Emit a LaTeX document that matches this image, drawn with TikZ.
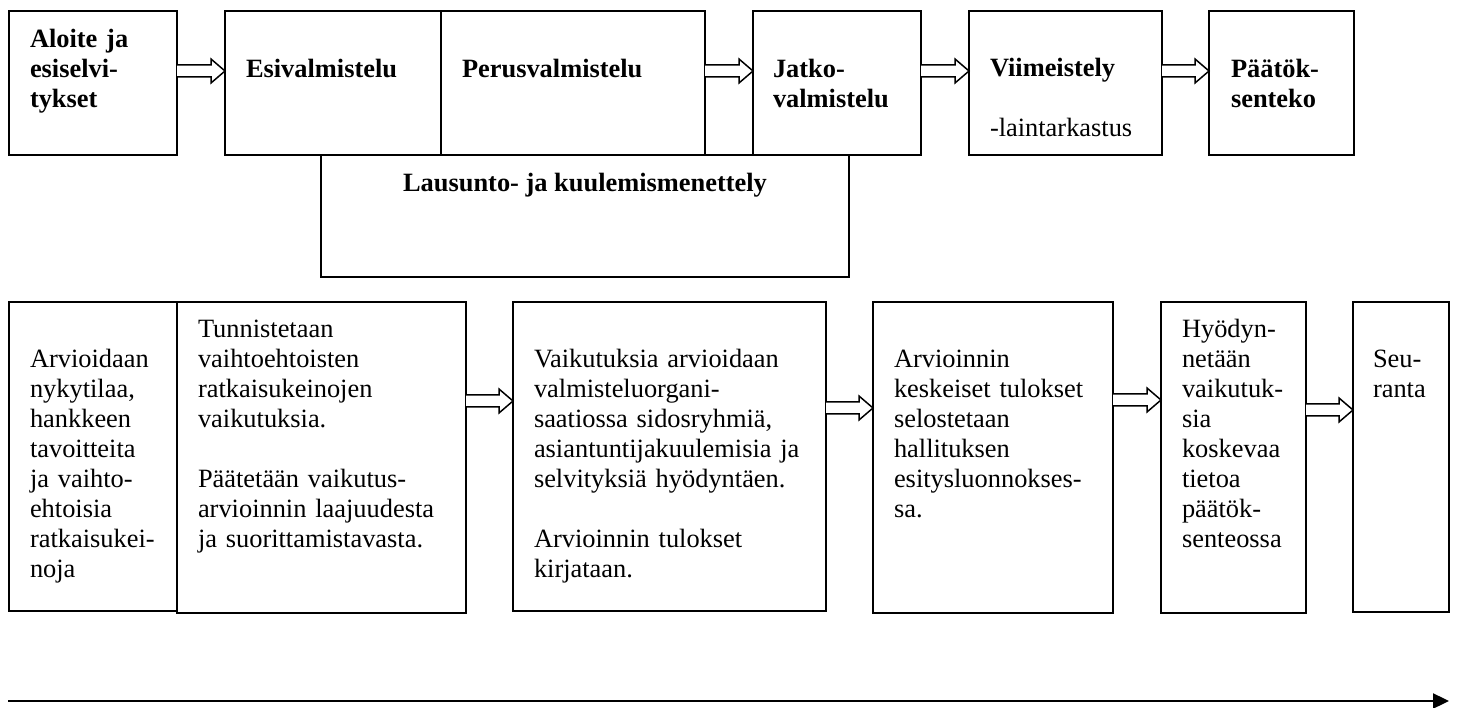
\documentclass[tikz,border=0pt]{standalone}
\usepackage{fontspec}
\setmainfont{Liberation Serif}
\usetikzlibrary{arrows.meta}
\tikzset{
  boxnode/.style={draw, line width=1.8pt, inner sep=0pt, outer sep=0pt, anchor=north west},
  txt/.style={anchor=base west, inner sep=0pt, outer sep=0pt, text width=420pt, align=left,
              font=\fontsize{26.4}{30}\selectfont},
  boldtxt/.style={txt, font=\fontsize{26.4}{30}\selectfont\bfseries},
  hollowarrow/.style={draw, line width=1.5pt, fill=white, line join=miter},
  timeline/.style={line width=2.3pt, -{Triangle[length=16pt,width=15pt]}}
}
% block arrow from node #1 (east side) to node #2 (west side) at height #3
\newcommand\blockconn[3]{%
  \path (#1.east |- 0,#3) coordinate (ba-s) (#2.west |- 0,#3) coordinate (ba-e);
  \draw[hollowarrow] ([yshift=6pt]ba-s) -- ([xshift=-14pt,yshift=6pt]ba-e)
    -- ([xshift=-14pt,yshift=12pt]ba-e) -- (ba-e)
    -- ([xshift=-14pt,yshift=-12pt]ba-e) -- ([xshift=-14pt,yshift=-6pt]ba-e)
    -- ([yshift=-6pt]ba-s);
}
\begin{document}
\begin{tikzpicture}[x=1pt,y=-1pt]
\useasboundingbox (0,0) rectangle (1457,708);
% top row
\node[boxnode, minimum width=168, minimum height=144] (t1) at (9,11) {};
\node[boxnode, minimum width=216, minimum height=144] (t2) at (225,11) {};
\node[boxnode, minimum width=264, minimum height=144] (t3) at (441,11) {};
\node[boxnode, minimum width=168, minimum height=144] (t4) at (753,11) {};
\node[boxnode, minimum width=193, minimum height=144] (t5) at (969,11) {};
\node[boxnode, minimum width=145, minimum height=144] (t6) at (1209,11) {};
\node[boxnode, minimum width=528, minimum height=122] (lau) at (321,155) {};

\node[boldtxt] (t1txt) at (30,48) {Aloite ja\\esiselvi-\\tykset};
\node[boldtxt] (t2txt) at (246,78) {Esivalmistelu};
\node[boldtxt] (t3txt) at (462,78) {Perusvalmistelu};
\node[boldtxt] (t4txt) at (773,78) {Jatko-\\valmistelu};
\node[boldtxt] (t5txt) at (990,77) {Viimeistely};
\node[txt] (t5sub) at (990,137) {-laintarkastus};
\node[boldtxt] (t6txt) at (1231,78) {Päätök-\\senteko};
\node[anchor=base, inner sep=0pt, font=\fontsize{26.4}{30}\selectfont\bfseries] (lautxt) at (585,192) {Lausunto- ja kuulemismenettely};

\blockconn{t1}{t2}{71}
\blockconn{t3}{t4}{71}
\blockconn{t4}{t5}{71}
\blockconn{t5}{t6}{71}

% bottom row
\node[boxnode, minimum width=168, minimum height=309] (b1) at (9,302) {};
\node[boxnode, minimum width=289, minimum height=311] (b2) at (177,302) {};
\node[boxnode, minimum width=313, minimum height=309] (b3) at (513,302) {};
\node[boxnode, minimum width=240, minimum height=311] (b4) at (873,302) {};
\node[boxnode, minimum width=145, minimum height=311] (b5) at (1161,302) {};
\node[boxnode, minimum width=96, minimum height=310] (b6) at (1353,302) {};

\node[txt] (b1txt) at (30,368) {Arvioidaan\\nykytilaa,\\hankkeen\\tavoitteita\\ja vaihto-\\ehtoisia\\ratkaisukei-\\noja};
\node[txt] (b2txt) at (198,338) {Tunnistetaan\\vaihtoehtoisten\\ratkaisukeinojen\\vaikutuksia.\\[30pt]Päätetään vaikutus-\\arvioinnin laajuudesta\\ja suorittamistavasta.};
\node[txt] (b3txt) at (534,368) {Vaikutuksia arvioidaan\\valmisteluorgani-\\saatiossa sidosryhmiä,\\asiantuntijakuulemisia ja\\selvityksiä hyödyntäen.\\[30pt]Arvioinnin tulokset\\kirjataan.};
\node[txt] (b4txt) at (894,368) {Arvioinnin\\keskeiset tulokset\\selostetaan\\hallituksen\\esitysluonnokses-\\sa.};
\node[txt] (b5txt) at (1182,338) {Hyödyn-\\netään\\vaikutuk-\\sia\\koskevaa\\tietoa\\päätök-\\senteossa};
\node[txt] (b6txt) at (1373,368) {Seu-\\ranta};

\blockconn{b2}{b3}{401}
\blockconn{b3}{b4}{408}
\blockconn{b4}{b5}{400}
\blockconn{b5}{b6}{410}

% time line
\coordinate (tlstart) at (8,701);
\coordinate (tlend) at (1449,701);
\draw[timeline] (tlstart) -- (tlend);
\end{tikzpicture}
\end{document}
